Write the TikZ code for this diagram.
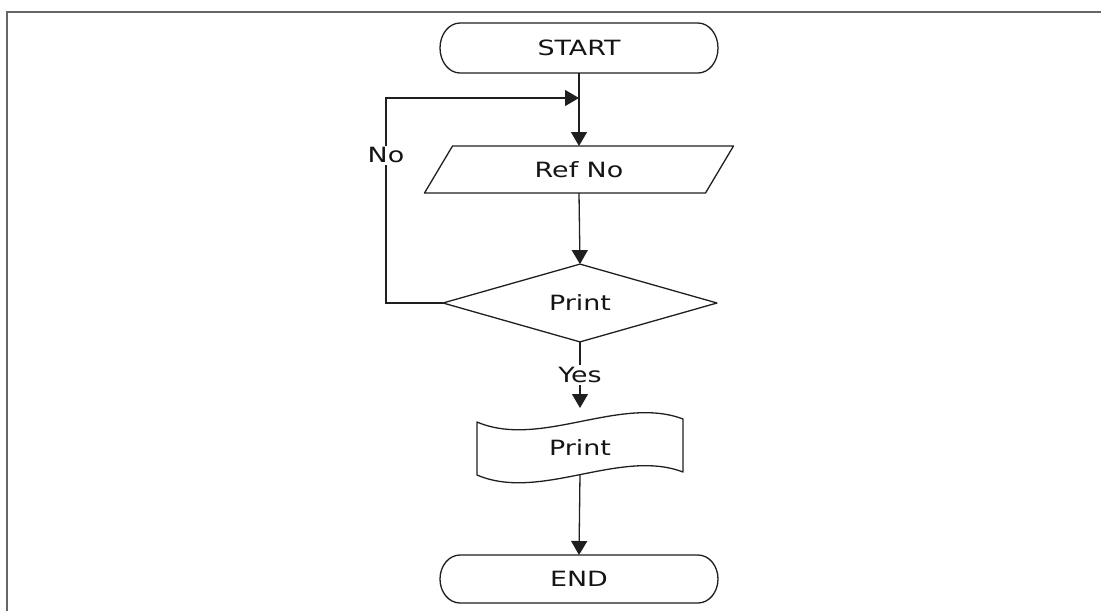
\documentclass[tikz,border=0pt]{standalone}
\usepackage{fontspec}
\setmainfont{DejaVu Sans}[FakeStretch=1.28]
\usetikzlibrary{arrows.meta,shapes.geometric}

\tikzset{
  every node/.style={font=\fontsize{21}{24}\selectfont, text=black!92},
  outline/.style={draw=black!88, line width=1.3pt, line join=round},
  box/.style={draw=none, inner sep=0pt, outer sep=0pt},
  arr/.style={draw=black!88, line width=1.3pt,
              -{Triangle[length=14pt,width=16pt]}},
  lbl/.style={fill=white, inner sep=2pt},
  frame/.style={draw=black!60, line width=1.6pt}
}

\begin{document}
\begin{tikzpicture}[x=1pt,y=1pt]
  \useasboundingbox (0,0) rectangle (1101,-611);

  % page frame
  \draw[frame] (7,-611) -- (7,-12) -- (1101,-12);

  % nodes
  \node[box, minimum width=278pt, minimum height=50pt] (start) at (579,-48) {START};
  \node[box, minimum width=281pt, minimum height=47pt] (ref) at (579,-169.5) {Ref No};
  \node[diamond, outline, inner sep=0pt, outer sep=0pt,
        minimum width=274pt, minimum height=72pt] (dec) at (580,-303) {Print};
  \node[box, minimum width=206pt, minimum height=52pt] (doc) at (580,-448) {Print};
  \node[box, minimum width=278pt, minimum height=48pt] (end) at (579,-579) {END};

  % terminators
  \draw[outline] ([xshift=20pt]start.north west) -- ([xshift=-20pt]start.north east)
    arc[start angle=90, end angle=-90, x radius=20pt, y radius=25pt]
    -- ([xshift=20pt]start.south west)
    arc[start angle=270, end angle=90, x radius=20pt, y radius=25pt] -- cycle;
  \draw[outline] ([xshift=20pt]end.north west) -- ([xshift=-20pt]end.north east)
    arc[start angle=90, end angle=-90, x radius=20pt, y radius=24pt]
    -- ([xshift=20pt]end.south west)
    arc[start angle=270, end angle=90, x radius=20pt, y radius=24pt] -- cycle;

  % input parallelogram
  \draw[outline] ([xshift=-14pt]ref.south west) -- ([xshift=14pt]ref.north west)
    -- ([xshift=14pt]ref.north east) -- ([xshift=-14pt]ref.south east) -- cycle;

  % document shape with wavy edges
  \draw[outline] (doc.north west)
    .. controls +(63,-27) and +(-63,24) .. ([yshift=3pt]doc.north east)
    -- ([yshift=2pt]doc.south east)
    .. controls +(-63,24) and +(63,-27) .. ([yshift=-1pt]doc.south west)
    -- cycle;

  % connector end points
  \coordinate (join) at (579,-98);
  \coordinate (yesend) at (580,-408);

  % connectors
  \draw[arr] (start.south) -- (ref.north);
  \draw[arr] (ref.south) -- (dec.north);
  \draw[arr] (dec.west) -- ++(-57,0) -- node[lbl, pos=0.72] (no) {No} ++(0,205) -- (join);
  \draw[arr] (dec.south) -- node[lbl] (yes) {Yes} (yesend);
  \draw[arr] (doc.south) -- (end.north);
\end{tikzpicture}
\end{document}
